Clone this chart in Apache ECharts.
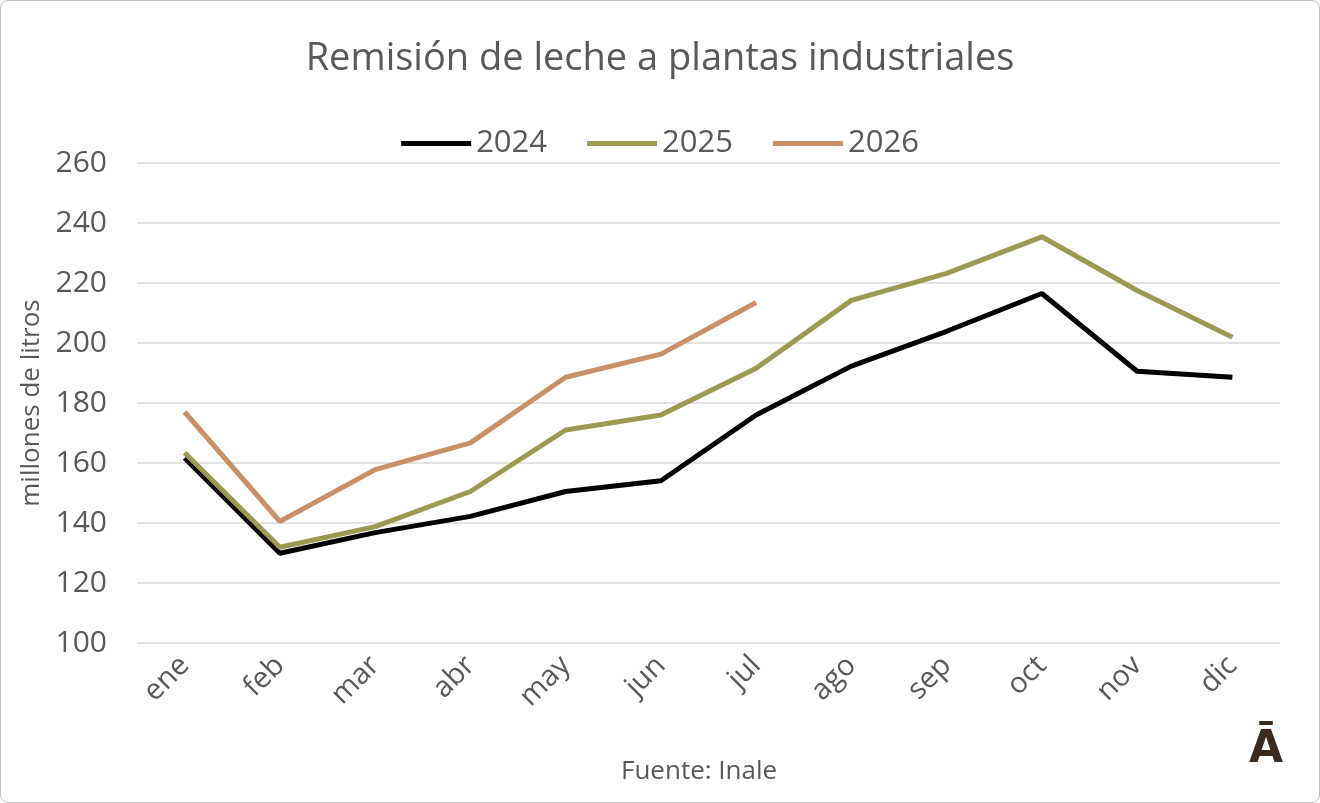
<!DOCTYPE html>
<html>
<head>
<meta charset="utf-8">
<script src="https://cdn.jsdelivr.net/npm/echarts@6/dist/echarts.min.js"></script>
<style>
html, body { margin: 0; padding: 0; background: #fff; }
#main { width: 1320px; height: 803px; box-sizing: border-box; border: 1px solid #bfbfbf; border-radius: 8px; }
</style>
</head>
<body>
<div id="main"></div>
<script>
var months = ['ene', 'feb', 'mar', 'abr', 'may', 'jun', 'jul', 'ago', 'sep', 'oct', 'nov', 'dic'];
var data2024 = [161.7, 129.9, 136.8, 142.2, 150.5, 154.1, 176, 192.3, 203.9, 216.5, 190.6, 188.6];
var data2025 = [163.4, 131.9, 138.8, 150.5, 171, 176, 191.6, 214.2, 223.2, 235.4, 217.5, 201.9];
var data2026 = [177, 140.5, 157.8, 166.7, 188.6, 196.3, 213.5];

var chart = echarts.init(document.getElementById('main'));
var font = 'Open Sans, Noto Sans, sans-serif';
function line(name, data, color) {
    return {
        name: name, type: 'line', data: data, symbol: 'none',
        lineStyle: { color: color, width: 5 }, itemStyle: { color: color }
    };
}
chart.setOption({
    animation: false,
    title: {
        text: 'Remisión de leche a plantas industriales',
        left: 'center', top: 34,
        textStyle: { fontSize: 38, fontWeight: 'normal', color: '#595959', fontFamily: font }
    },
    legend: {
        top: 122, left: 'center', itemWidth: 70, itemHeight: 5, itemGap: 40,
        icon: 'rect',
        textStyle: { fontSize: 31, color: '#595959', fontFamily: font },
        data: ['2024', '2025', '2026']
    },
    grid: { left: 136, right: 39, top: 162, bottom: 159 },
    xAxis: {
        type: 'category', data: months, boundaryGap: true,
        axisLine: { show: false }, axisTick: { show: false },
        axisLabel: { rotate: 45, fontSize: 29, color: '#595959', fontFamily: font, margin: 18 }
    },
    yAxis: {
        type: 'value', min: 100, max: 260, interval: 20,
        name: 'millones de litros', nameLocation: 'middle', nameGap: 90, nameRotate: 90,
        nameTextStyle: { fontSize: 26, color: '#595959', fontFamily: font },
        axisLabel: { fontSize: 30, color: '#595959', fontFamily: font, margin: 30 },
        splitLine: { lineStyle: { color: '#d9d9d9', width: 1.5 } }
    },
    graphic: [
        { type: 'text', left: 620, top: 758,
          style: { text: 'Fuente: Inale', fontSize: 26, fill: '#595959', fontFamily: font } },
        { type: 'text', left: 1248, top: 728,
          style: { text: 'Ā', fontSize: 44, fontWeight: 'bold', fill: '#3b2a1e', fontFamily: 'DejaVu Sans' } }
    ],
    series: [
        line('2024', data2024, '#000000'),
        line('2025', data2025, '#9c9a50'),
        line('2026', data2026, '#c98f66')
    ]
});
</script>
</body>
</html>
